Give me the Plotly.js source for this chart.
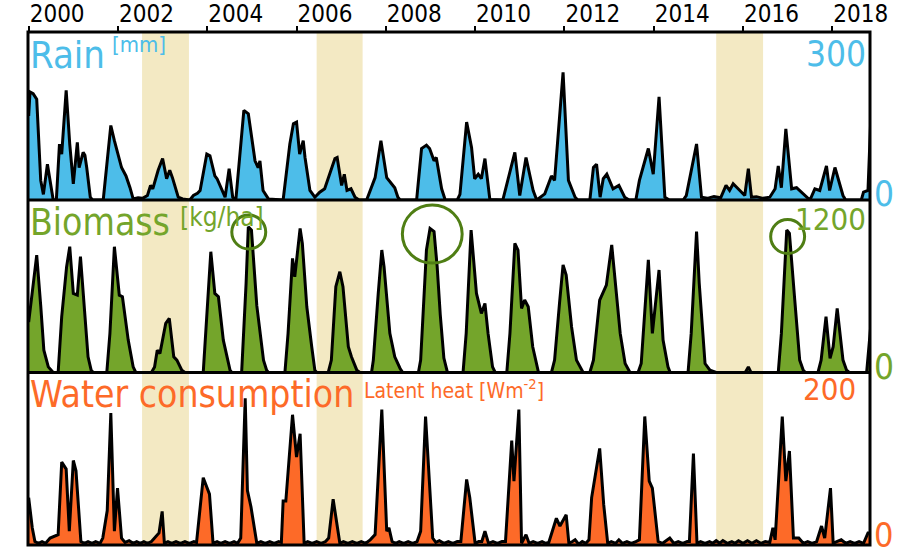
<!DOCTYPE html>
<html>
<head>
<meta charset="utf-8">
<script src="https://cdn.plot.ly/plotly-3.0.1.min.js"></script>
<style>html,body{margin:0;padding:0;background:#fff;}#chart{width:898px;height:555px;}</style>
</head>
<body>
<div id="chart"></div>
<script>
// ---- Data (decimal years) ----
const yearTicks = [2000, 2002, 2004, 2006, 2008, 2010, 2012, 2014, 2016, 2018];
const yearLabels = ["2000", "2002", "2004", "2006", "2008", "2010", "2012", "2014", "2016", "2018"];
const droughtStart = [2002.54, 2006.45, 2015.40];
const droughtEnd = [2003.59, 2007.48, 2016.45];

const rainYears = [2000.00,2000.03,2000.10,2000.18,2000.27,2000.33,2000.42,2000.48,2000.55,2000.62,2000.69,2000.74,2000.84,2000.92,2001.00,2001.09,2001.13,2001.22,2001.26,2001.30,2001.38,2001.43,2001.67,2001.84,2001.92,2002.08,2002.18,2002.27,2002.34,2002.45,2002.55,2002.66,2002.73,2002.78,2002.90,2003.00,2003.09,2003.16,2003.22,2003.35,2003.45,2003.61,2003.69,2003.78,2003.84,2003.99,2004.06,2004.17,2004.22,2004.40,2004.49,2004.57,2004.64,2004.82,2004.92,2005.07,2005.14,2005.18,2005.25,2005.37,2005.70,2005.85,2005.93,2006.00,2006.07,2006.15,2006.19,2006.30,2006.41,2006.52,2006.63,2006.86,2006.91,2007.01,2007.07,2007.13,2007.22,2007.31,2007.40,2007.57,2007.76,2007.89,2008.02,2008.20,2008.27,2008.32,2008.69,2008.80,2008.91,2008.98,2009.08,2009.13,2009.25,2009.33,2009.60,2009.66,2009.81,2009.92,2009.99,2010.07,2010.14,2010.22,2010.33,2010.62,2010.89,2011.00,2011.14,2011.30,2011.38,2011.56,2011.71,2011.78,2011.97,2012.09,2012.24,2012.30,2012.57,2012.65,2012.72,2012.80,2012.87,2012.95,2013.09,2013.22,2013.35,2013.45,2013.60,2013.68,2013.88,2013.99,2014.12,2014.25,2014.35,2014.66,2014.73,2014.96,2015.07,2015.20,2015.35,2015.50,2015.62,2015.70,2015.78,2015.93,2016.04,2016.12,2016.19,2016.30,2016.45,2016.60,2016.72,2016.79,2016.86,2016.96,2017.09,2017.20,2017.35,2017.50,2017.61,2017.72,2017.87,2017.94,2018.06,2018.20,2018.24,2018.30,2018.65,2018.70,2018.80,2018.86];
const rainValues = [150,193,190,180,35,10,64,35,0,0,100,82,196,100,29,103,58,85,80,58,5,0,0,133,106,58,43,22,2,4,3,8,26,20,53,74,38,53,40,5,2,0,8,12,17,82,79,43,38,5,56,5,0,160,154,70,58,70,17,2,0,100,136,139,82,106,76,17,5,14,20,74,76,26,46,17,20,5,0,0,40,106,40,22,5,0,0,92,98,92,70,76,20,0,0,10,139,94,38,46,38,74,1,0,85,8,76,17,0,11,43,35,228,35,5,0,0,58,64,5,38,46,20,26,5,0,0,35,92,46,184,5,0,0,8,100,5,3,6,4,26,17,29,17,8,56,5,6,3,5,20,61,22,127,20,22,11,0,20,17,61,17,58,17,8,0,0,14,17,140];

const bioYears = [2000.00,2000.18,2000.27,2000.34,2000.44,2000.55,2000.66,2000.74,2000.85,2000.92,2001.00,2001.09,2001.16,2001.26,2001.33,2001.40,2001.45,2001.75,2001.82,2001.92,2002.03,2002.10,2002.23,2002.34,2002.40,2002.75,2002.82,2002.88,2002.94,2003.07,2003.15,2003.25,2003.32,2003.43,2003.50,2003.91,2003.97,2004.08,2004.17,2004.25,2004.36,2004.51,2004.55,2004.77,2004.87,2004.92,2004.99,2005.11,2005.26,2005.33,2005.37,2005.74,2005.81,2005.91,2005.96,2006.08,2006.13,2006.23,2006.34,2006.41,2006.45,2006.71,2006.78,2006.88,2006.97,2007.04,2007.16,2007.23,2007.35,2007.42,2007.68,2007.72,2007.83,2007.91,2007.96,2008.09,2008.20,2008.32,2008.38,2008.73,2008.78,2008.91,2008.99,2009.08,2009.15,2009.22,2009.30,2009.38,2009.73,2009.80,2009.91,2009.96,2010.03,2010.14,2010.22,2010.29,2010.39,2010.45,2010.71,2010.78,2010.89,2010.96,2011.04,2011.11,2011.19,2011.29,2011.38,2011.42,2011.71,2011.78,2011.89,2011.97,2012.04,2012.16,2012.27,2012.38,2012.42,2012.57,2012.65,2012.79,2012.94,2013.06,2013.11,2013.25,2013.36,2013.43,2013.47,2013.65,2013.72,2013.88,2013.97,2014.12,2014.21,2014.32,2014.37,2014.77,2014.84,2014.96,2015.02,2015.15,2015.26,2015.40,2016.05,2016.12,2016.18,2016.79,2016.86,2016.98,2017.04,2017.16,2017.27,2017.35,2017.40,2017.68,2017.75,2017.86,2017.95,2018.02,2018.11,2018.24,2018.32,2018.38,2018.77,2018.86];
const bioValues = [350,817,465,155,39,0,0,388,736,875,550,538,806,388,109,16,0,0,272,875,538,527,225,39,0,0,39,155,132,341,376,109,86,16,0,0,272,840,550,527,225,16,0,0,620,1014,991,465,86,16,0,0,272,794,666,1002,898,457,179,16,0,0,86,597,701,597,179,109,16,0,0,86,550,852,736,272,109,28,0,0,86,852,1002,980,736,400,100,0,0,272,991,783,550,411,480,272,39,0,0,272,898,852,446,504,457,179,39,0,0,86,480,748,678,318,86,16,0,0,86,504,608,887,736,272,62,16,0,0,62,783,272,713,225,39,0,0,272,980,620,62,16,0,0,39,0,0,272,991,968,504,86,16,0,0,86,388,98,179,446,86,16,0,0,318];

const waterYears = [2000.00,2000.08,2000.14,2000.22,2000.30,2000.38,2000.48,2000.57,2000.66,2000.74,2000.80,2000.84,2000.91,2001.00,2001.06,2001.17,2001.25,2001.33,2001.42,2001.50,2001.60,2001.66,2001.76,2001.84,2001.92,2001.99,2002.08,2002.16,2002.25,2002.34,2002.42,2002.50,2002.58,2002.66,2002.75,2002.82,2002.92,2002.99,2003.04,2003.12,2003.20,2003.30,2003.40,2003.50,2003.60,2003.70,2003.76,2003.91,2003.99,2004.05,2004.13,2004.22,2004.30,2004.40,2004.50,2004.60,2004.68,2004.75,2004.85,2004.90,2004.98,2005.11,2005.20,2005.30,2005.40,2005.50,2005.60,2005.66,2005.70,2005.76,2005.91,2006.00,2006.08,2006.17,2006.25,2006.35,2006.45,2006.55,2006.65,2006.72,2006.82,2006.97,2007.05,2007.15,2007.25,2007.35,2007.45,2007.55,2007.65,2007.76,2007.91,2008.02,2008.07,2008.14,2008.22,2008.30,2008.40,2008.50,2008.60,2008.70,2008.78,2008.89,2009.05,2009.12,2009.20,2009.30,2009.40,2009.50,2009.60,2009.68,2009.81,2009.88,2010.00,2010.08,2010.15,2010.22,2010.30,2010.40,2010.50,2010.60,2010.68,2010.82,2010.87,2010.98,2011.04,2011.14,2011.21,2011.30,2011.40,2011.50,2011.58,2011.65,2011.82,2011.90,2012.04,2012.10,2012.18,2012.24,2012.32,2012.40,2012.48,2012.55,2012.61,2012.79,2012.88,2012.97,2013.05,2013.15,2013.22,2013.30,2013.40,2013.50,2013.60,2013.68,2013.80,2013.90,2013.97,2014.10,2014.20,2014.30,2014.36,2014.45,2014.55,2014.65,2014.75,2014.80,2014.89,2014.97,2015.05,2015.15,2015.25,2015.32,2015.40,2015.48,2015.55,2015.65,2015.75,2015.82,2015.90,2016.00,2016.10,2016.20,2016.30,2016.40,2016.50,2016.60,2016.67,2016.72,2016.88,2016.96,2017.04,2017.13,2017.25,2017.35,2017.45,2017.55,2017.65,2017.76,2017.83,2017.96,2018.02,2018.10,2018.20,2018.30,2018.40,2018.50,2018.60,2018.70,2018.80,2018.86];
const waterValues = [55,20,4,2,4,2,8,10,12,96,92,88,16,98,86,4,2,4,2,4,2,8,40,153,16,66,8,3,5,2,4,2,4,2,4,8,14,39,2,4,2,4,2,4,2,4,3,78,66,59,2,4,2,4,2,4,2,8,170,63,44,2,4,2,4,2,4,3,51,51,151,102,129,2,4,2,4,2,4,8,53,2,4,2,4,2,4,2,6,12,157,16,20,4,2,4,2,4,2,4,16,149,8,3,5,2,4,2,4,4,76,55,2,4,4,16,2,4,2,4,4,121,74,157,2,12,2,4,2,4,2,3,31,22,35,2,4,6,1,4,2,6,55,112,47,2,4,2,6,2,4,2,4,6,149,74,66,4,2,6,8,2,4,2,4,4,106,2,4,2,4,2,5,2,5,2,4,2,5,2,5,2,5,2,4,3,20,6,149,74,109,8,8,2,4,2,4,22,8,66,2,4,6,2,4,2,4,2,14,14];

// ---- Styling ----
const FONT = "'DejaVu Sans Condensed', 'DejaVu Sans', sans-serif";
const BLUE = "#4dbde9", GREEN = "#74a52b", ORANGE = "#fd6a28", BEIGE = "#f3e9c3", CIRCLE = "#4f7e14";

function series(x, y, color, ya) {
  return {x: x, y: y, type: "scatter", mode: "lines", xaxis: "x", yaxis: ya,
    line: {color: "#000", width: 3, shape: "linear"}, fill: "tozeroy", fillcolor: color,
    hoverinfo: "skip", showlegend: false};
}
const traces = [
  series(rainYears, rainValues, BLUE, "y"),
  series(bioYears, bioValues, GREEN, "y2"),
  series(waterYears, waterValues, ORANGE, "y3")
];

// panel boundaries (paper fractions)
const S1 = 0.6725, S2 = 0.3363;

const shapes = [];
for (let i = 0; i < droughtStart.length; i++) {
  shapes.push({type: "rect", xref: "x", yref: "paper", x0: droughtStart[i], x1: droughtEnd[i], y0: 0, y1: 1,
    fillcolor: BEIGE, line: {width: 0}, layer: "below"});
}
shapes.push({type: "line", xref: "paper", yref: "paper", x0: 0, x1: 1, y0: S1, y1: S1, line: {color: "#000", width: 3}});
shapes.push({type: "line", xref: "paper", yref: "paper", x0: 0, x1: 1, y0: S2, y1: S2, line: {color: "#000", width: 3}});
shapes.push({type: "rect", xref: "paper", yref: "paper", x0: 0, x1: 1, y0: 0, y1: 1, line: {color: "#000", width: 3}});
// highlight circles around biomass peaks
const circ = [[2004.93, 977, 0.38, 118], [2009.04, 963, 0.67, 202], [2017.0, 946, 0.38, 118]];
circ.forEach(c => shapes.push({type: "circle", xref: "x", yref: "y2", x0: c[0]-c[2], x1: c[0]+c[2], y0: c[1]-c[3], y1: c[1]+c[3],
  line: {color: CIRCLE, width: 3}, layer: "above"}));

function ann(text, x, y, size, color, xanchor) {
  return {text: text, xref: "paper", yref: "paper", x: x, y: y, xanchor: xanchor || "left", yanchor: "middle",
    showarrow: false, font: {family: FONT, size: size, color: color}};
}
const annotations = [
  ann("Rain", 0.0, 0.955, 38, BLUE),
  ann("[mm]", 0.097, 0.975, 22, BLUE),
  ann("Biomass", 0.0, 0.628, 37, GREEN),
  ann("[kg/ha]", 0.178, 0.639, 26, GREEN),
  ann("Water consumption", 0.0, 0.294, 37, ORANGE),
  ann("Latent heat [Wm<sup>-2</sup>]", 0.397, 0.304, 21, ORANGE),
  ann("300", 0.998, 0.957, 35, BLUE, "right"),
  ann("0", 1.002, 0.684, 35, BLUE, "left"),
  ann("1200", 0.998, 0.636, 31, GREEN, "right"),
  ann("0", 1.002, 0.347, 35, GREEN, "left"),
  ann("200", 0.986, 0.304, 31, ORANGE, "right"),
  ann("0", 1.002, 0.020, 34, ORANGE, "left")
];

const hidden = {showgrid: false, zeroline: false, showticklabels: false, ticks: "", showline: false, fixedrange: true};
const layout = {
  width: 898, height: 555,
  margin: {l: 28, r: 28, t: 32, b: 10, pad: 0},
  paper_bgcolor: "#fff", plot_bgcolor: "rgba(0,0,0,0)",
  showlegend: false,
  xaxis: {anchor: "free", position: 1, side: "top", range: [1999.985, 2018.845],
    tickmode: "array", tickvals: yearTicks, ticktext: yearLabels,
    ticks: "outside", ticklen: 6, tickwidth: 2, tickcolor: "#000",
    ticklabelposition: "outside right",
    tickfont: {family: FONT, size: 24, color: "#000"},
    showgrid: false, zeroline: false, showline: false, fixedrange: true},
  yaxis: Object.assign({domain: [S1, 1], range: [0, 300], anchor: "x"}, hidden),
  yaxis2: Object.assign({domain: [S2, S1], range: [0, 1200], anchor: "x"}, hidden),
  yaxis3: Object.assign({domain: [0, S2], range: [0, 200], anchor: "x"}, hidden),
  shapes: shapes,
  annotations: annotations
};

Plotly.newPlot("chart", traces, layout, {displayModeBar: false, staticPlot: true});
</script>
</body>
</html>
